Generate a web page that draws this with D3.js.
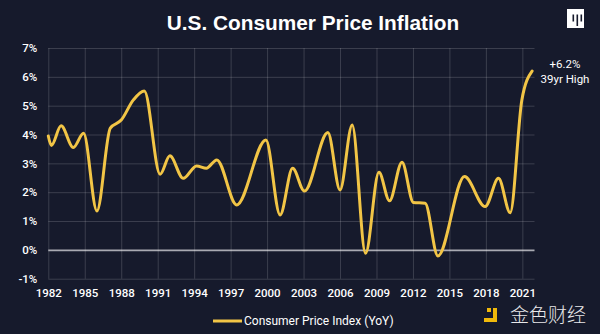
<!DOCTYPE html>
<html>
<head>
<meta charset="utf-8">
<script src="https://cdn.jsdelivr.net/npm/d3@7"></script>
<style>
  html, body { margin: 0; padding: 0; background: #161a2c; }
  svg { display: block; }
</style>
</head>
<body>
<svg id="chart" width="600" height="334"></svg>
<script>
// Year-over-year CPI readings (year, percent)
const years = [1982, 1982.25, 1983.05, 1984.06, 1984.9, 1986.0, 1987.1, 1988.0, 1989.0, 1989.9,
  1991.2, 1992.0, 1993.1, 1994.2, 1995.0, 1995.86, 1997.5, 1999.9, 2001.07, 2002.1,
  2003.07, 2005.0, 2006.0, 2007.0, 2008.1, 2009.2, 2010.07, 2011.1, 2012.04, 2013.0,
  2014.05, 2016.24, 2017.94, 2019.04, 2020.0, 2020.96, 2021.8];
const cpi = [3.95, 3.62, 4.30, 3.55, 4.04, 1.35, 4.22, 4.50, 5.20, 5.51,
  2.62, 3.26, 2.48, 2.91, 2.83, 3.12, 1.56, 3.81, 1.21, 2.83,
  2.04, 4.07, 2.08, 4.33, -0.12, 2.69, 1.70, 3.04, 1.64, 1.62,
  -0.21, 2.54, 1.50, 2.48, 1.29, 5.20, 6.20];

const yTicks = [-1, 0, 1, 2, 3, 4, 5, 6, 7];
const xTicks = [1982, 1985, 1988, 1991, 1994, 1997, 2000, 2003, 2006, 2009, 2012, 2015, 2018, 2021];

const titleText = "U.S. Consumer Price Inflation";
const seriesName = "Consumer Price Index (YoY)";
const noteLines = ["+6.2%", "39yr High"];
const brandText = "金色财经";

const svg = d3.select("#chart");
const W = 600, H = 334;
const plot = { left: 48.3, right: 534.5, top: 48, bottom: 278.7 };
const gold = "#f2c546";

svg.append("rect").attr("width", W).attr("height", H).attr("fill", "#161a2c");

const x = d3.scaleLinear().domain([1982, 2022]).range([plot.left, plot.right]);
const y = d3.scaleLinear().domain([-1, 7]).range([plot.bottom, plot.top]);

// Horizontal grid + y labels
const yAxis = svg.append("g")
  .attr("transform", `translate(${plot.left},0)`)
  .call(d3.axisLeft(y).tickValues(yTicks).tickFormat(d => d + "%")
    .tickSize(-(plot.right - plot.left)).tickPadding(11));
yAxis.select(".domain").remove();
yAxis.selectAll(".tick line")
  .attr("stroke", d => d === 0 ? "#a9aab2" : "rgba(255,255,255,0.16)")
  .attr("stroke-width", d => d === 0 ? 1.6 : 1);
yAxis.selectAll(".tick text")
  .attr("fill", "#ffffff").attr("font-family", "Roboto, sans-serif")
  .attr("font-size", 11.5).attr("font-weight", 500);

// Vertical grid + year labels
const xAxis = svg.append("g")
  .attr("transform", `translate(0,${plot.bottom})`)
  .call(d3.axisBottom(x).tickValues(xTicks).tickFormat(d3.format("d"))
    .tickSize(-(plot.bottom - plot.top)).tickPadding(10));
xAxis.select(".domain").remove();
xAxis.selectAll(".tick line").attr("stroke", "rgba(255,255,255,0.16)");
xAxis.selectAll(".tick text")
  .attr("fill", "#ffffff").attr("font-family", "Roboto, sans-serif")
  .attr("font-size", 11.5).attr("font-weight", 500);

// CPI line
const pts = years.map((yr, i) => [yr, cpi[i]]);
svg.append("path")
  .datum(pts)
  .attr("fill", "none")
  .attr("stroke", gold)
  .attr("stroke-width", 3)
  .attr("stroke-linejoin", "round")
  .attr("stroke-linecap", "round")
  .attr("d", d3.line().x(d => x(d[0])).y(d => y(d[1])).curve(d3.curveMonotoneX));

// Title
svg.append("text")
  .attr("x", 313).attr("y", 30)
  .attr("text-anchor", "middle")
  .attr("fill", "#ffffff")
  .attr("font-family", "Liberation Sans, Arial, sans-serif")
  .attr("font-size", 20.8).attr("font-weight", 700)
  .text(titleText);

// Logo mark, top right
const logo = svg.append("g");
logo.append("rect").attr("x", 567).attr("y", 9).attr("width", 17).attr("height", 19).attr("fill", "#ffffff");
[[572.5, 14.5, 21.5], [576.5, 14.5, 26], [580.5, 14.5, 21.5]].forEach(([bx, y0, y1]) => {
  logo.append("rect").attr("x", bx).attr("y", y0).attr("width", 1.6).attr("height", y1 - y0).attr("fill", "#161a2c");
});

// End-of-series annotation
svg.append("text")
  .attr("x", 565).attr("y", 68)
  .attr("text-anchor", "middle").attr("fill", "#ffffff")
  .attr("font-family", "Roboto, sans-serif").attr("font-size", 11.5)
  .text(noteLines[0]);
svg.append("text")
  .attr("x", 565).attr("y", 83)
  .attr("text-anchor", "middle").attr("fill", "#ffffff")
  .attr("font-family", "Roboto, sans-serif").attr("font-size", 11.5)
  .text(noteLines[1]);

// Legend
svg.append("line")
  .attr("x1", 213).attr("x2", 242).attr("y1", 321).attr("y2", 321)
  .attr("stroke", gold).attr("stroke-width", 3);
svg.append("text")
  .attr("x", 244).attr("y", 325)
  .attr("fill", "#ffffff")
  .attr("font-family", "Roboto, sans-serif").attr("font-size", 12)
  .text(seriesName);

// Brand mark, bottom right
const brand = svg.append("g");
const brandGold = "#f0b90b";
brand.append("rect").attr("x", 487).attr("y", 308).attr("width", 4).attr("height", 4).attr("fill", brandGold);
brand.append("rect").attr("x", 493).attr("y", 308).attr("width", 4).attr("height", 14).attr("fill", brandGold);
brand.append("rect").attr("x", 484).attr("y", 318).attr("width", 13).attr("height", 4).attr("fill", brandGold);
brand.append("text")
  .attr("x", 510).attr("y", 322)
  .attr("fill", "#e8e8ea")
  .attr("font-family", "Noto Sans CJK SC, sans-serif").attr("font-size", 19).attr("font-weight", 300)
  .text(brandText);
</script>
</body>
</html>
